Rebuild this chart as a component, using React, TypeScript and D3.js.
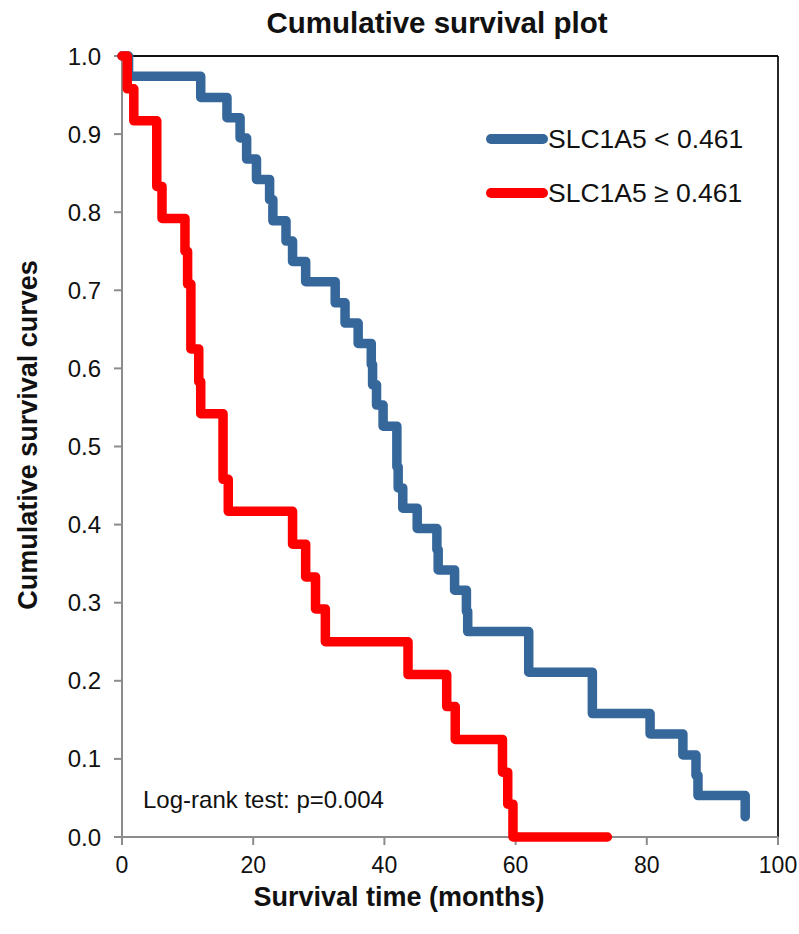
import React from "react";
import * as d3 from "d3";

// Kaplan–Meier steps: event times (months) and survival after each event
const lowTimes = [0, 1, 12, 16, 18, 19, 20.5, 22.5, 23, 25, 26, 28, 32.5, 34, 36, 38, 38.2, 38.8, 39.8, 41.9, 42.1, 42.8, 45, 48, 48.2, 50.7, 52.5, 52.7, 62, 71.7, 80.5, 85.5, 87.5, 87.8, 95];
const lowSurvival = [1, 0.974, 0.947, 0.921, 0.895, 0.868, 0.842, 0.816, 0.789, 0.763, 0.737, 0.711, 0.684, 0.658, 0.632, 0.605, 0.579, 0.553, 0.526, 0.474, 0.447, 0.421, 0.395, 0.368, 0.342, 0.316, 0.289, 0.263, 0.211, 0.158, 0.132, 0.105, 0.079, 0.053, 0.026];

const highTimes = [0, 0.8, 1.8, 5.3, 6.1, 9.6, 10.0, 10.5, 11.7, 12, 15.4, 16.2, 26, 28, 29.5, 31, 43.6, 49.5, 50.8, 58, 58.8, 59.6, 74];
const highSurvival = [1, 0.958, 0.917, 0.833, 0.792, 0.75, 0.708, 0.625, 0.583, 0.542, 0.458, 0.417, 0.375, 0.333, 0.292, 0.25, 0.208, 0.167, 0.125, 0.083, 0.042, 0, 0];

const seriesNames = ["SLC1A5 < 0.461", "SLC1A5 \u2265 0.461"];
const seriesColors = ["#35679b", "#ff0000"];

const xTicks = [0, 20, 40, 60, 80, 100];
const yTicks = [0, 0.1, 0.2, 0.3, 0.4, 0.5, 0.6, 0.7, 0.8, 0.9, 1.0];

const chartTitle = "Cumulative survival plot";
const xTitle = "Survival time (months)";
const yTitle = "Cumulative survival curves";
const testNote = "Log-rank test: p=0.004";

const W = 799;
const H = 934;
const FONT = "'Liberation Sans', Arial, Helvetica, sans-serif";

export default function App() {
  const x = d3.scaleLinear().domain([0, 100]).range([122, 778]);
  const y = d3.scaleLinear().domain([0, 1]).range([837, 56]);

  const line = d3
    .line<[number, number]>()
    .x((d) => x(d[0]))
    .y((d) => y(d[1]))
    .curve(d3.curveStepAfter);

  const low: [number, number][] = lowTimes.map((t, i) => [t, lowSurvival[i]]);
  const high: [number, number][] = highTimes.map((t, i) => [t, highSurvival[i]]);

  const fmt = d3.format(".1f");

  return (
    <svg
      width={W}
      height={H}
      style={{ position: "absolute", left: 0, top: 0, background: "#fff" }}
      fontFamily={FONT}
    >
      <rect x={0} y={0} width={W} height={H} fill="#fff" />

      {/* frame: top and right edges */}
      <line x1={x(0)} x2={x(100)} y1={y(1)} y2={y(1)} stroke="#111" strokeWidth={1.8} />
      <line x1={x(100)} x2={x(100)} y1={y(1)} y2={y(0)} stroke="#111" strokeWidth={1.8} />

      {/* y axis */}
      <line x1={x(0)} x2={x(0)} y1={y(1) - 1} y2={y(0)} stroke="#8c8c8c" strokeWidth={2} />
      {yTicks.map((t) => (
        <g key={"y" + t}>
          <line x1={x(0) - 8} x2={x(0)} y1={y(t)} y2={y(t)} stroke="#8c8c8c" strokeWidth={2} />
          <text x={101} y={y(t) + 8.5} textAnchor="end" fontSize={24} fill="#111">
            {fmt(t)}
          </text>
        </g>
      ))}

      {/* x axis */}
      <line x1={x(0)} x2={x(100)} y1={y(0)} y2={y(0)} stroke="#8c8c8c" strokeWidth={2} />
      {xTicks.map((t) => (
        <g key={"x" + t}>
          <line x1={x(t)} x2={x(t)} y1={y(0)} y2={y(0) + 8} stroke="#8c8c8c" strokeWidth={2} />
          <text x={x(t)} y={873} textAnchor="middle" fontSize={23} fill="#111">
            {t}
          </text>
        </g>
      ))}

      {/* survival curves */}
      <path d={line(low) || ""} fill="none" stroke={seriesColors[0]} strokeWidth={9.5} strokeLinejoin="round" strokeLinecap="round" />
      <path d={line(high) || ""} fill="none" stroke={seriesColors[1]} strokeWidth={9.5} strokeLinejoin="round" strokeLinecap="round" />

      {/* legend */}
      {seriesNames.map((name, i) => (
        <g key={name}>
          <line x1={491} x2={543} y1={139 + i * 54} y2={139 + i * 54} stroke={seriesColors[i]} strokeWidth={10} strokeLinecap="round" />
          <text x={548} y={148 + i * 54} fontSize={26.5} fill="#111">
            {name}
          </text>
        </g>
      ))}

      <text x={143} y={808} fontSize={24} fill="#111">
        {testNote}
      </text>

      {/* titles */}
      <text x={437} y={33} textAnchor="middle" fontSize={29.5} fontWeight="bold" fill="#111">
        {chartTitle}
      </text>
      <text x={399} y={906} textAnchor="middle" fontSize={27} fontWeight="bold" fill="#111">
        {xTitle}
      </text>
      <text
        transform={`translate(37, 435) rotate(-90)`}
        textAnchor="middle"
        fontSize={27}
        fontWeight="bold"
        fill="#111"
      >
        {yTitle}
      </text>
    </svg>
  );
}
